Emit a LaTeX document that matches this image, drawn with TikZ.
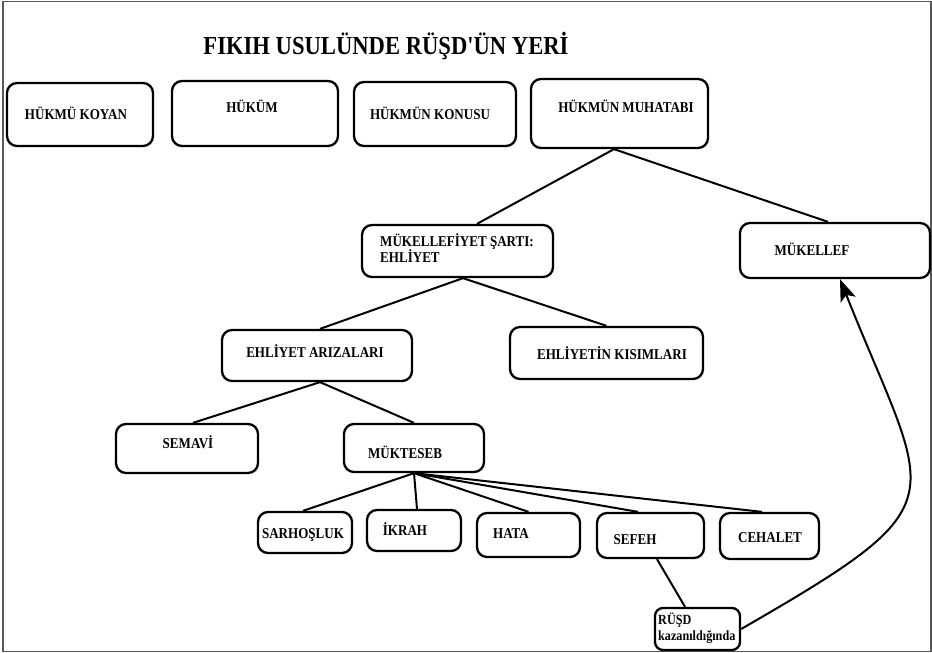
\documentclass[tikz,border=0pt]{standalone}
\usepackage{fontspec}
\setmainfont{Liberation Serif}
\newfontfamily\kutufont[FakeStretch=0.87]{Liberation Serif}
\usetikzlibrary{arrows.meta}

\tikzset{
  kutu/.style={draw, line width=2.3pt, rounded corners=10pt, inner sep=0pt},
  yazi/.style={font=\kutufont\bfseries\fontsize{15}{16}\selectfont, inner sep=0pt, anchor=base},
  baglanti/.style={line width=2pt}
}

\begin{document}
\begin{tikzpicture}[x=1pt, y=-1pt]
% everything is in pixels of the page, y runs downwards
\useasboundingbox (0,0) rectangle (932,653);
\draw[gray!70!black, line width=1.6pt] (3,1.5) rectangle (931,651.5);

% The title
\node[font=\kutufont\bfseries\fontsize{26}{29}\selectfont, inner sep=0pt] (baslik) at (386,46) {FIKIH USULÜNDE RÜŞD'ÜN YERİ};

% The top row
\node[kutu, minimum width=146, minimum height=63] (koyan) at (80,114.5) {};
\node[kutu, minimum width=166, minimum height=65] (hukum) at (255,113.5) {};
\node[kutu, minimum width=162, minimum height=64] (konu) at (435,114) {};
\node[kutu, minimum width=177, minimum height=69] (muhatab) at (619.5,113.5) {};
\node[yazi] (koyan-y) at (76,119) {HÜKMÜ KOYAN};
\node[yazi] (hukum-y) at (252,112) {HÜKÜM};
\node[yazi] (konu-y) at (430,119) {HÜKMÜN KONUSU};
\node[yazi] (muhatab-y) at (626,112) {HÜKMÜN MUHATABI};

% Second row
\node[kutu, minimum width=191, minimum height=52] (sart) at (457.5,251) {};
\node[kutu, minimum width=190, minimum height=55] (mukellef) at (835,250.5) {};
\node[yazi, anchor=west, align=left] (sart-y) at (380,248) {MÜKELLEFİYET ŞARTI:\\EHLİYET};
\node[yazi] (mukellef-y) at (812,255) {MÜKELLEF};

% Third row
\node[kutu, minimum width=190, minimum height=51] (arizalar) at (317,355.5) {};
\node[kutu, minimum width=193, minimum height=52] (kisimlar) at (606.5,353) {};
\node[yazi] (arizalar-y) at (315,357) {EHLİYET ARIZALARI};
\node[yazi] (kisimlar-y) at (612,359) {EHLİYETİN KISIMLARI};

% Fourth row
\node[kutu, minimum width=142, minimum height=49] (semavi) at (187,448.5) {};
\node[kutu, minimum width=140, minimum height=48] (mukteseb) at (414,448) {};
\node[yazi] (semavi-y) at (188,448) {SEMAVİ};
\node[yazi] (mukteseb-y) at (405,458) {MÜKTESEB};

% The acquired ones
\node[kutu, minimum width=94, minimum height=41] (sarhos) at (305,532.5) {};
\node[kutu, minimum width=94, minimum height=41] (ikrah) at (414,530.5) {};
\node[kutu, minimum width=103, minimum height=44] (hata) at (528.5,535) {};
\node[kutu, minimum width=107, minimum height=45] (sefeh) at (650.5,535.5) {};
\node[kutu, minimum width=99, minimum height=46] (cehalet) at (769.5,536) {};
\node[yazi] (sarhos-y) at (303,538) {SARHOŞLUK};
\node[yazi] (ikrah-y) at (405,535) {İKRAH};
\node[yazi] (hata-y) at (511,538) {HATA};
\node[yazi] (sefeh-y) at (635,544) {SEFEH};
\node[yazi] (cehalet-y) at (770,542) {CEHALET};

% Rusd box at the bottom
\node[kutu, minimum width=85, minimum height=42, rounded corners=8pt] (rusd) at (697.5,629) {};
\node[yazi, anchor=west, align=left, font=\kutufont\bfseries\fontsize{14}{16}\selectfont] (rusd-y) at (658,628) {RÜŞD\\kazanıldığında};

% The tree lines
\draw[baglanti] ([xshift=-5.5pt]muhatab.south) -- ([xshift=19.5pt]sart.north);
\draw[baglanti] ([xshift=-5.5pt]muhatab.south) -- ([xshift=-7pt]mukellef.north);
\draw[baglanti] ([xshift=5.5pt]sart.south) -- ([xshift=3pt]arizalar.north);
\draw[baglanti] ([xshift=5.5pt]sart.south) -- (kisimlar.north);
\draw[baglanti] ([xshift=3pt]arizalar.south) -- ([xshift=6pt]semavi.north);
\draw[baglanti] ([xshift=3pt]arizalar.south) -- (mukteseb.north);
\foreach \n/\s in {sarhos/-2, ikrah/3, hata/0, sefeh/-12.5, cehalet/-7.5}
  \draw[baglanti] (mukteseb.south) -- ([xshift=\s pt]\n.north);
\draw[baglanti] ([xshift=6.5pt]sefeh.south) -- ([xshift=-12.5pt]rusd.north);

% Rusd leads back up to mukellef
\draw[baglanti, -{Stealth[length=22pt, width=16pt, inset=5pt]}] (rusd.east) .. controls (965,500) and (930,505) .. ([xshift=5pt]mukellef.south);
\end{tikzpicture}
\end{document}
